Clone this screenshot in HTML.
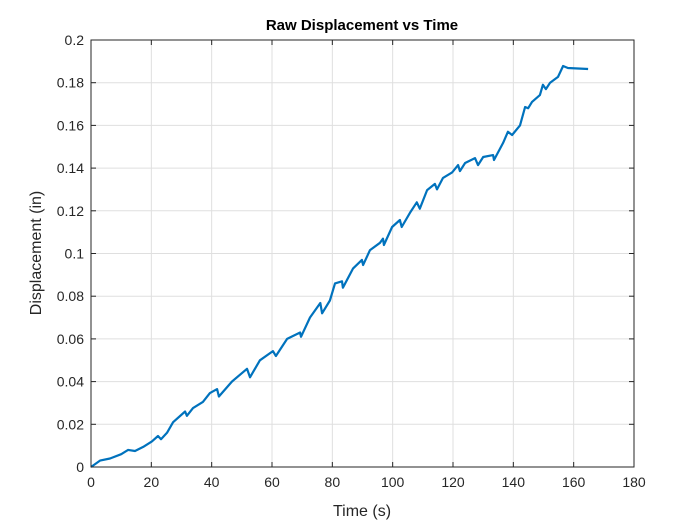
<!DOCTYPE html>
<html><head><meta charset="utf-8"><style>
html,body{margin:0;padding:0;background:#fff;}
svg{display:block;font-family:"Liberation Sans",Arial,sans-serif;}
</style></head><body>
<svg id="chart" width="700" height="525" viewBox="0 0 700 525">
<rect x="0" y="0" width="700" height="525" fill="#fff"/>
<g id="grid"></g>
<g id="ticks"></g>
<path id="line" fill="none" stroke="#0072BD" stroke-width="2.2" stroke-linejoin="round"/>
<rect x="91" y="40" width="543" height="427" fill="none" stroke="#262626" stroke-width="1"/>
<text x="362" y="30" text-anchor="middle" font-size="15" font-weight="bold" fill="#000">Raw Displacement vs Time</text>
<text x="362" y="516" text-anchor="middle" font-size="16" fill="#262626">Time (s)</text>
<text transform="translate(41,253) rotate(-90)" text-anchor="middle" font-size="16" fill="#262626">Displacement (in)</text>
</svg>
<script>
const times=[0,3,6.3,10,12.3,14.6,17.3,20.2,22.2,23.2,25.2,27.2,31.2,31.8,33.8,37.1,39.4,41.8,42.4,46.7,51.7,52.7,56,60.3,61.3,65,69.3,69.6,72.6,76,76.6,79.2,80.9,83.2,83.5,86.9,89.8,90.2,92.5,95.8,96.8,97.1,99.8,102.4,103,105.7,108,109,111.4,114,114.7,116.7,119.7,121.7,122.3,124,127.3,128.3,130,133.3,133.6,136.6,138.2,139.6,142.2,143.9,144.9,146.2,148.8,149.8,150.8,152.2,154.8,156.5,158.1,164.8];
const displacement=[0,0.003,0.004,0.006,0.008,0.0075,0.0094,0.012,0.0145,0.013,0.016,0.021,0.026,0.024,0.0276,0.0305,0.0346,0.0365,0.033,0.040,0.046,0.042,0.050,0.0543,0.052,0.060,0.063,0.061,0.070,0.0768,0.072,0.078,0.086,0.087,0.084,0.093,0.097,0.0946,0.1016,0.105,0.107,0.104,0.1124,0.1157,0.1124,0.119,0.124,0.121,0.1297,0.1326,0.130,0.1354,0.138,0.1414,0.1386,0.1424,0.1447,0.1414,0.1452,0.1461,0.1438,0.1518,0.157,0.1555,0.160,0.1686,0.168,0.171,0.1742,0.179,0.177,0.180,0.1827,0.1878,0.1869,0.1864];
const xTicks=[0,20,40,60,80,100,120,140,160,180];
const yTicks=[0,0.02,0.04,0.06,0.08,0.1,0.12,0.14,0.16,0.18,0.2];
const yTickLabels=["0","0.02","0.04","0.06","0.08","0.1","0.12","0.14","0.16","0.18","0.2"];
const X0=91,X1=634,Y0=467,Y1=40;
const xs=v=>X0+(v-0)/(180-0)*(X1-X0);
const ys=v=>Y0-(v-0)/(0.2-0)*(Y0-Y1);
const NS="http://www.w3.org/2000/svg";
const grid=document.getElementById('grid'),ticks=document.getElementById('ticks');
function mk(tag,attrs,parent){const e=document.createElementNS(NS,tag);for(const k in attrs)e.setAttribute(k,attrs[k]);parent.appendChild(e);return e;}
xTicks.forEach(v=>{
  const x=xs(v);
  const g=mk('line',{x1:x,x2:x,y1:Y1,y2:Y0,stroke:'#dfdfdf','stroke-width':1},grid);
  
  
  mk('line',{x1:x,x2:x,y1:Y0,y2:Y0-5,stroke:'#262626'},ticks);
  mk('line',{x1:x,x2:x,y1:Y1,y2:Y1+5,stroke:'#262626'},ticks);
  const t=mk('text',{x:x,y:Y0+20,'text-anchor':'middle','font-size':14,fill:'#262626'},ticks);
  t.textContent=v;
  
  
});
yTicks.forEach((v,i)=>{
  const y=ys(v);
  const g=mk('line',{x1:X0,x2:X1,y1:y,y2:y,stroke:'#dfdfdf','stroke-width':1},grid);
  
  
  mk('line',{x1:X0,x2:X0+5,y1:y,y2:y,stroke:'#262626'},ticks);
  mk('line',{x1:X1,x2:X1-5,y1:y,y2:y,stroke:'#262626'},ticks);
  const t=mk('text',{x:X0-7,y:y+5,'text-anchor':'end','font-size':14,fill:'#262626'},ticks);
  t.textContent=yTickLabels[i];
  
  
});
document.getElementById('line').setAttribute('d',times.map((t,i)=>(i?'L':'M')+xs(t).toFixed(1)+','+ys(displacement[i]).toFixed(1)).join(''));
</script>
</body></html>
